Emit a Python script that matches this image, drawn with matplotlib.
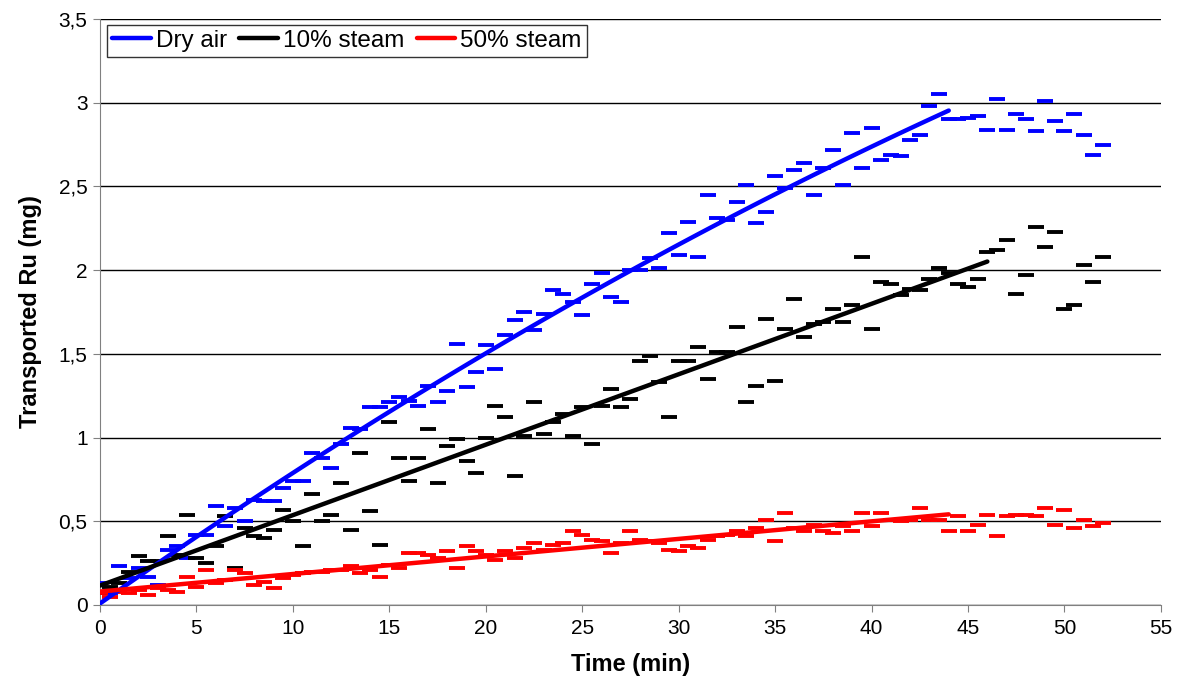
import numpy as np
import matplotlib
matplotlib.use("Agg")
import matplotlib.pyplot as plt
from matplotlib.ticker import FuncFormatter, MultipleLocator

plt.rcParams['font.family'] = ['Liberation Sans', 'DejaVu Sans']

# sampling time (min), one measurement every 0.5 min
time = np.arange(0, 52.5, 0.5)

dry_air = [0.13, 0.07, 0.23, 0.16, 0.22, 0.17, 0.12, 0.33, 0.35, 0.28,
           0.42, 0.42, 0.59, 0.47, 0.58, 0.50, 0.63, 0.62, 0.62, 0.70,
           0.74, 0.74, 0.91, 0.88, 0.82, 0.96, 1.06, 1.05, 1.18, 1.18,
           1.21, 1.24, 1.22, 1.19, 1.31, 1.21, 1.28, 1.56, 1.30, 1.39,
           1.55, 1.41, 1.61, 1.70, 1.75, 1.64, 1.74, 1.88, 1.86, 1.81,
           1.73, 1.92, 1.98, 1.84, 1.81, 2.00, 2.00, 2.07, 2.01, 2.22,
           2.09, 2.29, 2.08, 2.45, 2.31, 2.30, 2.41, 2.51, 2.28, 2.35,
           2.56, 2.49, 2.60, 2.64, 2.45, 2.61, 2.72, 2.51, 2.82, 2.61,
           2.85, 2.66, 2.69, 2.68, 2.78, 2.81, 2.98, 3.05, 2.90, 2.90,
           2.91, 2.92, 2.84, 3.02, 2.84, 2.93, 2.90, 2.83, 3.01, 2.89,
           2.83, 2.93, 2.81, 2.69, 2.75]

steam_10 = [0.07, 0.11, 0.13, 0.20, 0.29, 0.26, 0.26, 0.41, 0.30, 0.54,
            0.28, 0.25, 0.35, 0.53, 0.22, 0.46, 0.41, 0.40, 0.45, 0.57,
            0.50, 0.35, 0.66, 0.50, 0.54, 0.73, 0.45, 0.91, 0.56, 0.36,
            1.09, 0.88, 0.74, 0.88, 1.05, 0.73, 0.95, 0.99, 0.86, 0.79,
            1.00, 1.19, 1.12, 0.77, 1.01, 1.21, 1.02, 1.09, 1.14, 1.01,
            1.18, 0.96, 1.19, 1.29, 1.18, 1.23, 1.46, 1.49, 1.33, 1.12,
            1.46, 1.46, 1.54, 1.35, 1.51, 1.51, 1.66, 1.21, 1.31, 1.71,
            1.34, 1.65, 1.83, 1.60, 1.68, 1.69, 1.77, 1.69, 1.79, 2.08,
            1.65, 1.93, 1.92, 1.85, 1.89, 1.88, 1.95, 2.01, 1.98, 1.92,
            1.90, 1.95, 2.11, 2.12, 2.18, 1.86, 1.97, 2.26, 2.14, 2.23,
            1.77, 1.79, 2.03, 1.93, 2.08]

steam_50 = [0.07, 0.05, 0.08, 0.07, 0.09, 0.06, 0.10, 0.09, 0.08, 0.17,
            0.11, 0.21, 0.13, 0.15, 0.21, 0.19, 0.12, 0.14, 0.10, 0.16,
            0.18, 0.19, 0.20, 0.20, 0.21, 0.21, 0.23, 0.19, 0.21, 0.17,
            0.24, 0.22, 0.31, 0.31, 0.30, 0.28, 0.32, 0.22, 0.35, 0.32,
            0.30, 0.27, 0.32, 0.28, 0.34, 0.37, 0.33, 0.36, 0.37, 0.44,
            0.42, 0.39, 0.38, 0.31, 0.37, 0.44, 0.39, 0.38, 0.37, 0.33,
            0.32, 0.35, 0.34, 0.39, 0.41, 0.42, 0.44, 0.41, 0.46, 0.51,
            0.38, 0.55, 0.46, 0.44, 0.48, 0.44, 0.43, 0.47, 0.44, 0.55,
            0.47, 0.55, 0.51, 0.50, 0.51, 0.58, 0.51, 0.51, 0.44, 0.53,
            0.44, 0.48, 0.54, 0.41, 0.53, 0.54, 0.54, 0.53, 0.58, 0.48,
            0.57, 0.46, 0.51, 0.47, 0.49]

labels = ["Dry air", "10% steam", "50% steam"]
colors = ["#0000ff", "#000000", "#ff0000"]
# trend fitted over the first part of each run (end time, poly order)
fit_end = [44, 46, 44]
fit_deg = [2, 1, 1]

fig = plt.figure(figsize=(11.85, 6.99), dpi=100)
ax = fig.add_axes([0.0844, 0.1345, 0.8953, 0.8383])

for vals, lab, col, tend, deg in zip([dry_air, steam_10, steam_50], labels, colors, fit_end, fit_deg):
    vals = np.array(vals)
    ax.plot(time, vals, linestyle='none', marker='_', markersize=11,
            markeredgewidth=2.8, color=col, zorder=3)
    sel = time <= tend
    coef = np.polyfit(time[sel], vals[sel], deg)
    tt = np.linspace(0, tend, 100)
    ax.plot(tt, np.polyval(coef, tt), color=col, lw=3.2, label=lab,
            solid_capstyle='round', zorder=4)

ax.set_xlim(0, 55)
ax.set_ylim(0, 3.5)
ax.xaxis.set_major_locator(MultipleLocator(5))
ax.yaxis.set_major_locator(MultipleLocator(0.5))
fmt = FuncFormatter(lambda v, p: ('%g' % v).replace('.', ','))
ax.yaxis.set_major_formatter(fmt)
ax.grid(axis='y', color='black', lw=1)
ax.set_axisbelow(True)
for s in ['top', 'right']:
    ax.spines[s].set_visible(False)
ax.spines['left'].set_color('#808080')
ax.spines['bottom'].set_color('#808080')
ax.tick_params(labelsize=15, direction='out', length=5, color='#808080')
ax.tick_params(axis='x', pad=5)
ax.tick_params(axis='y', pad=4)

ax.set_xlabel("Time (min)", fontsize=17, fontweight='bold', labelpad=11)
ax.set_ylabel("Transported Ru (mg)", fontsize=17, fontweight='bold', labelpad=12)

leg = ax.legend(loc='upper left', ncol=3, fontsize=17.5, frameon=True,
                fancybox=False, edgecolor='black', handlelength=1.6,
                handletextpad=0.2, columnspacing=0.5, borderpad=0.2,
                borderaxespad=0, bbox_to_anchor=(0.007, 0.99))
leg.get_frame().set_linewidth(1)

fig.savefig("out.png", dpi=100)
